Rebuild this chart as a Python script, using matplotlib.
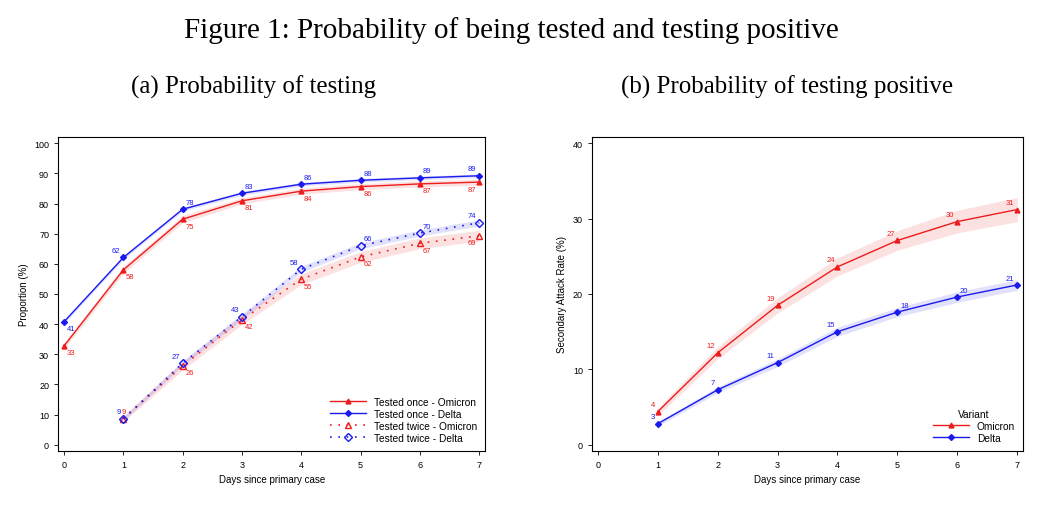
import numpy as np
import matplotlib
matplotlib.use("Agg")
import matplotlib.pyplot as plt

plt.rcParams['font.family'] = ['Liberation Sans', 'DejaVu Sans']

days = [0, 1, 2, 3, 4, 5, 6, 7]
days2 = [1, 2, 3, 4, 5, 6, 7]

# panel (a): probability of testing (%)
once_omi = [32.8, 58.0, 74.8, 80.9, 84.1, 85.6, 86.5, 87.1]
once_omi_ci = [1.0, 1.2, 1.2, 1.0, 1.0, 1.0, 1.0, 1.0]
once_del = [40.8, 62.1, 78.1, 83.4, 86.4, 87.7, 88.5, 89.2]
once_del_ci = [0.6, 0.6, 0.6, 0.6, 0.6, 0.6, 0.6, 0.6]
twice_omi = [8.7, 26.2, 41.5, 54.9, 62.3, 66.8, 69.3]
twice_omi_ci = [1.0, 1.4, 1.6, 1.8, 1.8, 1.8, 1.8]
twice_del = [8.6, 27.1, 42.5, 58.2, 66.0, 70.2, 73.6]
twice_del_ci = [0.6, 0.8, 0.9, 1.0, 1.0, 1.0, 1.0]
once_omi_lab = ["33", "58", "75", "81", "84", "86", "87", "87"]
once_del_lab = ["41", "62", "78", "83", "86", "88", "89", "89"]
twice_omi_lab = ["9", "26", "42", "55", "62", "67", "69"]
twice_del_lab = ["9", "27", "43", "58", "66", "70", "74"]

# panel (b): secondary attack rate (%)
sar_omi = [4.4, 12.2, 18.5, 23.6, 27.1, 29.6, 31.2]
sar_omi_ci = [0.5, 0.8, 1.0, 1.2, 1.3, 1.5, 1.6]
sar_del = [2.8, 7.3, 10.9, 15.0, 17.6, 19.6, 21.2]
sar_del_ci = [0.3, 0.4, 0.5, 0.6, 0.6, 0.7, 0.7]
sar_omi_lab = ["4", "12", "19", "24", "27", "30", "31"]
sar_del_lab = ["3", "7", "11", "15", "18", "20", "21"]

RED = "#ee1c1c"
BLUE = "#1a1aee"

fig = plt.figure(figsize=(10.57, 5.06), dpi=100)
fig.text(0.484, 0.94, "Figure 1: Probability of being tested and testing positive",
         ha="center", va="center", fontsize=21, family="Liberation Serif")
fig.text(0.24, 0.828, "(a) Probability of testing", ha="center", va="center",
         fontsize=18, family="Liberation Serif")
fig.text(0.745, 0.828, "(b) Probability of testing positive", ha="center", va="center",
         fontsize=18, family="Liberation Serif")

ax1 = fig.add_axes([0.055, 0.107, 0.404, 0.62])
ax2 = fig.add_axes([0.56, 0.107, 0.408, 0.62])


def band(ax, x, y, ci, color):
    y = np.array(y)
    ci = np.array(ci)
    ax.fill_between(x, y - ci, y + ci, color=color, alpha=0.13, lw=0)


def labels(ax, x, y, labs, color, dx, dy, ha):
    for xi, yi, t in zip(x, y, labs):
        ax.annotate(t, (xi, yi), xytext=(dx, dy), textcoords="offset points",
                    fontsize=5.5, color=color, ha=ha, va="center")


band(ax1, days, once_omi, once_omi_ci, RED)
band(ax1, days, once_del, once_del_ci, BLUE)
band(ax1, days2, twice_omi, twice_omi_ci, RED)
band(ax1, days2, twice_del, twice_del_ci, BLUE)
ax1.plot(days, once_omi, color=RED, lw=1, marker="^", ms=3.5, label="Tested once - Omicron")
ax1.plot(days, once_del, color=BLUE, lw=1, marker="D", ms=3, label="Tested once - Delta")
ax1.plot(days2, twice_omi, color=RED, lw=1.2, ls=(0, (1, 4)), marker="^", ms=4.5,
         mfc="none", label="Tested twice - Omicron")
ax1.plot(days2, twice_del, color=BLUE, lw=1.2, ls=(0, (1, 4)), marker="D", ms=4,
         mfc="none", label="Tested twice - Delta")
labels(ax1, days[:7], once_omi[:7], once_omi_lab[:7], RED, 2, -5, "left")
labels(ax1, [7], once_omi[7:], once_omi_lab[7:], RED, -2, -5, "right")
labels(ax1, days[2:7], once_del[2:7], once_del_lab[2:7], BLUE, 2, 5, "left")
labels(ax1, [1, 7], [once_del[1], once_del[7]], [once_del_lab[1], once_del_lab[7]],
        BLUE, -2, 5, "right")
labels(ax1, [0], [once_del[0]], [once_del_lab[0]], BLUE, 2, -5, "left")
labels(ax1, days2[1:6], twice_omi[1:6], twice_omi_lab[1:6], RED, 2, -5, "left")
labels(ax1, [7], twice_omi[6:], twice_omi_lab[6:], RED, -2, -5, "right")
labels(ax1, [2, 3, 4, 7], [twice_del[i] for i in (1, 2, 3, 6)],
        [twice_del_lab[i] for i in (1, 2, 3, 6)], BLUE, -2, 5, "right")
labels(ax1, [5, 6], twice_del[4:6], twice_del_lab[4:6], BLUE, 2, 5, "left")
labels(ax1, [1], [twice_omi[0]], [twice_omi_lab[0]], RED, 0, 5, "center")
labels(ax1, [1], [twice_del[0]], [twice_del_lab[0]], BLUE, -2, 5, "right")
ax1.set_xlim(-0.1, 7.1)
ax1.set_ylim(-2, 102)
ax1.set_yticks(range(0, 101, 10))
ax1.set_xticks(days)
ax1.set_ylabel("Proportion (%)", fontsize=7)
ax1.set_xlabel("Days since primary case", fontsize=7)
ax1.legend(loc="lower right", fontsize=7.3, frameon=False, handlelength=3.5,
           labelspacing=0.2, borderaxespad=0.4)

band(ax2, days2, sar_omi, sar_omi_ci, RED)
band(ax2, days2, sar_del, sar_del_ci, BLUE)
ax2.plot(days2, sar_omi, color=RED, lw=1, marker="^", ms=3.5, label="Omicron")
ax2.plot(days2, sar_del, color=BLUE, lw=1, marker="D", ms=3, label="Delta")
labels(ax2, days2, sar_omi, sar_omi_lab, RED, -2, 5, "right")
labels(ax2, days2[:4], sar_del[:4], sar_del_lab[:4], BLUE, -2, 5, "right")
labels(ax2, days2[4:6], sar_del[4:6], sar_del_lab[4:6], BLUE, 2, 5, "left")
labels(ax2, days2[6:], sar_del[6:], sar_del_lab[6:], BLUE, -2, 5, "right")
ax2.set_xlim(-0.1, 7.1)
ax2.set_ylim(-0.8, 40.8)
ax2.set_yticks(range(0, 41, 10))
ax2.set_xticks(days)
ax2.set_ylabel("Secondary Attack Rate (%)", fontsize=7)
ax2.set_xlabel("Days since primary case", fontsize=7)
ax2.legend(loc="lower right", fontsize=7.3, frameon=False, title="Variant",
           title_fontsize=7.3, handlelength=3.5, labelspacing=0.2, borderaxespad=0.4)

for ax in (ax1, ax2):
    ax.tick_params(labelsize=6.5, length=3, width=0.6)
    for s in ax.spines.values():
        s.set_linewidth(0.8)

fig.savefig("out.png", dpi=100)
